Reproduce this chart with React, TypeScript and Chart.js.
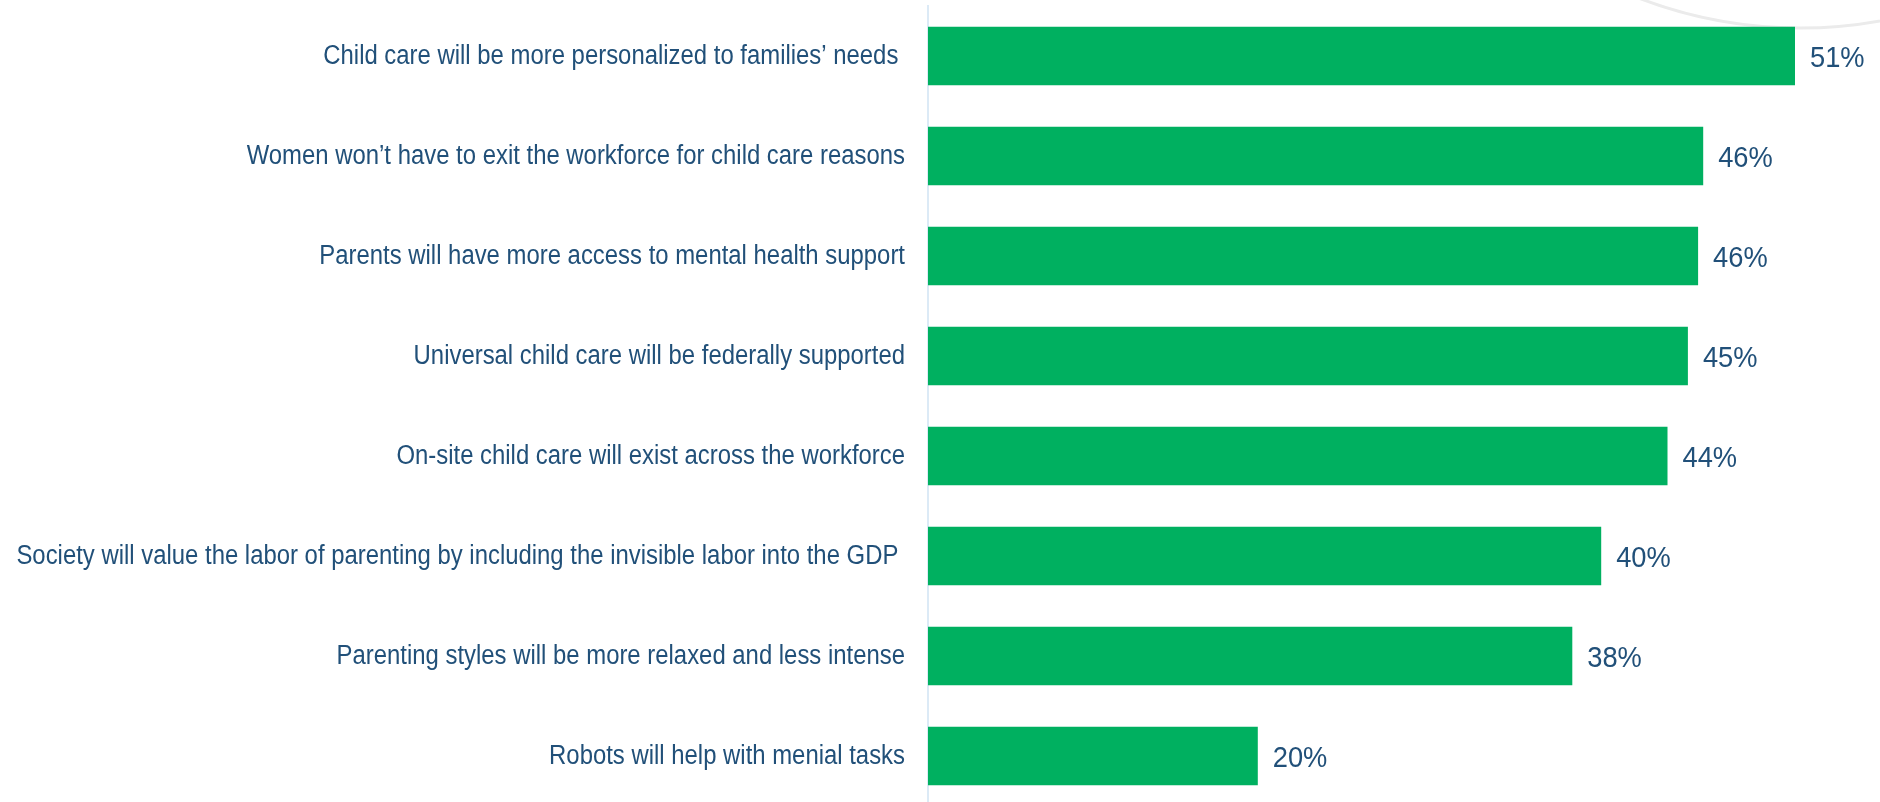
import React, { useEffect, useRef } from "react";
import { Chart, registerables } from "chart.js";

Chart.register(...registerables);

const categories: string[] = [
  "Child care will be more personalized to families’ needs ",
  "Women won’t have to exit the workforce for child care reasons",
  "Parents will have more access to mental health support",
  "Universal child care will be federally supported",
  "On-site child care will exist across the workforce",
  "Society will value the labor of parenting by including the invisible labor into the GDP ",
  "Parenting styles will be more relaxed and less intense",
  "Robots will help with menial tasks",
];

const values: number[] = [51.0, 45.6, 45.3, 44.7, 43.5, 39.6, 37.9, 19.4];
const valueLabels: string[] = ["51%", "46%", "46%", "45%", "44%", "40%", "38%", "20%"];

const BAR_COLOR = "#00B060";
const TEXT_COLOR = "#215079";
const AXIS_COLOR = "#DCEAF6";

// Category labels drawn condensed (the original uses a narrow face)
const categoryLabelPlugin = {
  id: "categoryLabels",
  afterDraw(chart: any) {
    const ctx = chart.ctx;
    const yScale = chart.scales.y;
    const right = chart.chartArea.left - 23;
    ctx.save();
    ctx.font = "27px 'Liberation Sans', Arial, sans-serif";
    ctx.fillStyle = TEXT_COLOR;
    ctx.textAlign = "right";
    ctx.textBaseline = "alphabetic";
    categories.forEach((label, i) => {
      const y = yScale.getPixelForTick(i);
      ctx.save();
      ctx.translate(right, y + 8);
      ctx.scale(0.885, 1);
      ctx.fillText(label, 0, 0);
      ctx.restore();
    });
    ctx.restore();
  },
};

const valueLabelPlugin = {
  id: "valueLabels",
  afterDatasetsDraw(chart: any) {
    const ctx = chart.ctx;
    const meta = chart.getDatasetMeta(0);
    ctx.save();
    ctx.font = "29px 'Liberation Sans', Arial, sans-serif";
    ctx.fillStyle = TEXT_COLOR;
    ctx.textAlign = "left";
    ctx.textBaseline = "alphabetic";
    meta.data.forEach((bar: any, i: number) => {
      ctx.save();
      ctx.translate(bar.x + 15, bar.y + 10.5);
      ctx.scale(0.94, 1);
      ctx.fillText(valueLabels[i], 0, 0);
      ctx.restore();
    });
    ctx.restore();
  },
};

const arcPlugin = {
  id: "decorArc",
  beforeDraw(chart: any) {
    const ctx = chart.ctx;
    ctx.save();
    ctx.strokeStyle = "#EBEBEB";
    ctx.lineWidth = 3;
    ctx.beginPath();
    ctx.arc(1800, -422, 450, 0, Math.PI);
    ctx.stroke();
    ctx.restore();
  },
};

export default function App() {
  const ref = useRef<HTMLCanvasElement | null>(null);

  useEffect(() => {
    if (!ref.current) return;
    const chart = new Chart(ref.current, {
      type: "bar",
      data: {
        labels: categories,
        datasets: [
          {
            data: values,
            backgroundColor: BAR_COLOR,
            borderWidth: 0,
            barPercentage: 0.585,
            categoryPercentage: 1,
          },
        ],
      },
      options: {
        indexAxis: "y",
        animation: false,
        responsive: false,
        maintainAspectRatio: false,
        layout: { padding: { top: 6, bottom: 0, left: 0, right: 0 } },
        plugins: {
          legend: { display: false },
          tooltip: { enabled: false },
        },
        scales: {
          x: {
            display: false,
            min: 0,
            max: 56,
          },
          y: {
            grid: { display: false, drawTicks: false },
            border: { display: true, color: AXIS_COLOR, width: 2 },
            ticks: { display: false },
            afterFit: (scale: any) => {
              scale.width = 928;
            },
          },
        },
      },
      plugins: [arcPlugin, valueLabelPlugin, categoryLabelPlugin],
    });
    return () => chart.destroy();
  }, []);

  return (
    <div
      style={{
        position: "fixed",
        left: 0,
        top: 0,
        width: 1880,
        height: 802,
        overflow: "hidden",
        background: "#ffffff",
      }}
    >
      <canvas ref={ref} width={1880} height={806} style={{ display: "block" }} />
    </div>
  );
}
